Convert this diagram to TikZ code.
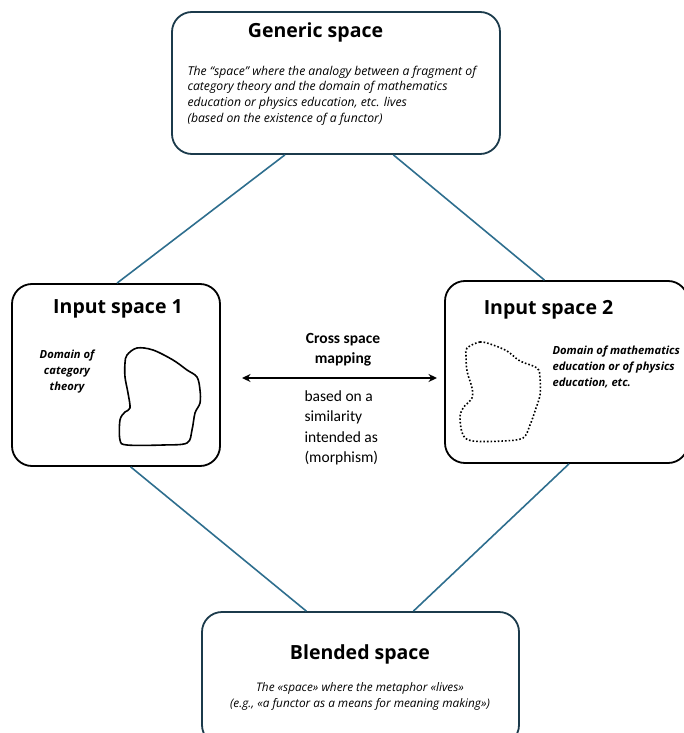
\documentclass[tikz,border=0pt]{standalone}
\usepackage{fontspec}
\setmainfont{Open Sans}
\newfontfamily\mapfont{Carlito}
\usetikzlibrary{arrows.meta,calc}
\definecolor{linkteal}{HTML}{2E6E8E}
\definecolor{navyrim}{HTML}{1B3A4B}

\begin{document}
\begin{tikzpicture}[
    x=1pt, y=-1pt,
    spacebox/.style={draw, line width=1.8pt, rounded corners=20pt, inner sep=0pt},
    title/.style={font=\bfseries\fontsize{19.5}{22}\selectfont},
    note/.style={font=\itshape\fontsize{12.2}{15.6}\selectfont, align=left},
    domaintext/.style={font=\bfseries\itshape\fontsize{11.2}{16}\selectfont},
    link/.style={linkteal, line width=1.6pt},
    blob/.style={line width=1.6pt, line join=round}
]
\useasboundingbox (0,0) rectangle (683,733);

% ---- the four spaces ----
\node[spacebox, navyrim, minimum width=328pt, minimum height=142pt] (generic) at (336,83) {};
\node[spacebox, minimum width=208pt, minimum height=182pt] (input1) at (116,375) {};
\node[spacebox, minimum width=243pt, minimum height=182pt] (input2) at (566.5,372) {};
\node[spacebox, navyrim, minimum width=317pt, minimum height=133pt] (blended) at (360.5,678.5) {};

% ---- generic space ----
\node[title] (gentitle) at (315.5,32) {Generic space};
\node[note, anchor=west] (gentext) at (184,95.5) {The “space” where the analogy between a fragment of\\
category theory and the domain of mathematics\\
education or physics education, etc. lives\\
(based on the existence of a functor)};

% ---- input space 1 ----
\node[title] (in1title) at (118,309) {Input space 1};
\node[domaintext, align=center] (in1text) at (67,372) {Domain of\\category\\theory};
\draw[blob] plot[smooth cycle, tension=0.55] coordinates {
    (127,355) (137,348) (153,350) (173,360) (187,370) (197,377) (200,390)
    (200,403) (195,413) (192,430) (187,443) (163,445) (127,445) (120,440)
    (120,420) (125,412) (130,408) (128,393) (125,377) (125,363)};

% ---- input space 2 ----
\node[title] (in2title) at (548.5,310) {Input space 2};
\node[domaintext, align=left, anchor=west] (in2text) at (549,367) {Domain of mathematics\\education or of physics\\education, etc.};
\draw[blob, dotted] plot[smooth cycle, tension=0.55] coordinates {
    (467,348) (480,342) (493,345) (507,351) (520,361) (537,368) (540,378)
    (540,395) (535,411) (530,425) (523,438) (503,441) (473,441) (463,435)
    (460,418) (463,408) (472,398) (472,388) (467,371) (466,355)};

% ---- blended space ----
\node[title] (bltitle) at (360,654) {Blended space};
\node[font=\itshape\fontsize{11.8}{16}\selectfont, align=center] (bltext) at (360,696)
    {The «space» where the metaphor «lives»\\(e.g., «a functor as a means for meaning making»)};

% ---- cross space mapping ----
\coordinate (mapleft) at (242,378);
\coordinate (mapright) at (437,378);
\draw[{Stealth[length=8.5pt,width=8pt]}-{Stealth[length=8.5pt,width=8pt]}, line width=1.3pt] (mapleft) -- (mapright);
\node[font=\mapfont\bfseries\fontsize{15.5}{20}\selectfont, align=center] (maptitle) at (343,350) {Cross space\\mapping};
\node[font=\mapfont\fontsize{15.5}{20.3}\selectfont, align=left, anchor=west] (maptext) at (301,428)
    {based on a\\similarity\\intended as\\(morphism)};

% ---- connectors ----
\draw[link] ($(generic.south west)!0.345!(generic.south east)$) -- ($(input1.north west)!0.505!(input1.north east)$);
\draw[link] ($(generic.south west)!0.674!(generic.south east)$) -- ($(input2.north west)!0.41!(input2.north east)$);
\draw[link] ($(input1.south west)!0.57!(input1.south east)$) -- ($(blended.north west)!0.33!(blended.north east)$);
\draw[link] ($(input2.south west)!0.51!(input2.south east)$) -- ($(blended.north west)!0.666!(blended.north east)$);
\end{tikzpicture}
\end{document}
